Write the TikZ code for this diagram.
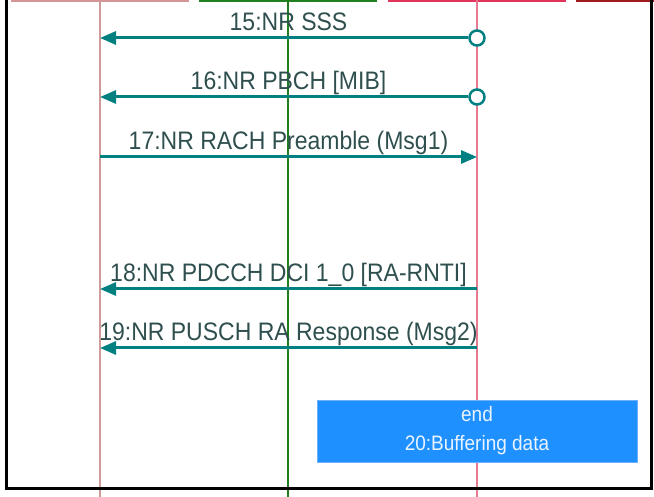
\documentclass[tikz,border=0pt]{standalone}
\usepackage{fontspec}
\setmainfont{Liberation Sans}
\usetikzlibrary{arrows.meta}
\definecolor{msgteal}{HTML}{008080}
\definecolor{msgtext}{HTML}{2F4F4F}
\definecolor{lifeA}{HTML}{CF9A9A}
\definecolor{headA}{HTML}{D39595}
\definecolor{lifeB}{HTML}{1F7F1F}
\definecolor{headB}{HTML}{1E801E}
\definecolor{lifeC}{HTML}{E67A90}
\definecolor{headC}{HTML}{E0345A}
\definecolor{headD}{HTML}{A01C1C}
\definecolor{boxblue}{HTML}{1E90FF}
\definecolor{boxedge}{HTML}{6CB0FF}
\definecolor{boxtext}{HTML}{EAF4FF}
\newcommand{\tallish}[1]{\scalebox{1}[1.1]{#1}}
\tikzset{
  lifeline/.style={line width=1.2pt},
  headbar/.style={line width=2.5pt},
  msgline/.style={draw=msgteal, line width=3pt, -{Triangle[length=16pt,width=13pt]}},
  msglabel/.style={anchor=base, text=msgtext, font=\fontsize{23}{27}\selectfont, inner sep=0pt},
  startdot/.style={circle, draw=msgteal, line width=2.5pt, fill=white, minimum size=15pt, inner sep=0pt},
  notebox/.style={fill=boxblue, draw=boxedge, line width=0.8pt},
  notetext/.style={text=boxtext, font=\fontsize{19}{23}\selectfont, inner sep=0pt, anchor=base},
  frameline/.style={draw=black, line width=3pt}
}
\begin{document}
\begin{tikzpicture}[x=1pt,y=-1pt]
\useasboundingbox (0,0) rectangle (654,497);
% lifeline coordinates
\coordinate (a0) at (100,0);
\coordinate (a1) at (100,497);
\coordinate (b0) at (288,0);
\coordinate (b1) at (288,497);
\coordinate (c0) at (477,0);
\coordinate (c1) at (477,497);
% header bars (bottoms of the participant boxes)
\draw[headbar, draw=headA] (11,0.8) -- (189,0.8);
\draw[headbar, draw=headB] (199,0.8) -- (377,0.8);
\draw[headbar, draw=headC] (388,0.8) -- (566,0.8);
\draw[headbar, draw=headD] (576,0.8) -- (654,0.8);
% lifelines
\draw[lifeline, draw=lifeA] (a0) -- (a1);
\draw[lifeline, draw=lifeB] (b0) -- (b1);
\draw[lifeline, draw=lifeC] (c0) -- (c1);
% frame
\draw[frameline] (6,0) -- (6,488.5) -- (651,488.5) -- (651,0);
% message end points
\coordinate (m15a) at (477,38);  \coordinate (m15b) at (100,38);
\coordinate (m16a) at (477,97);  \coordinate (m16b) at (100,97);
\coordinate (m17a) at (100,157); \coordinate (m17b) at (477,157);
\coordinate (m18a) at (477,289); \coordinate (m18b) at (100,289);
\coordinate (m19a) at (477,348); \coordinate (m19b) at (100,348);
% labels
\node[msglabel] (l15) at (288.5,31) {\tallish{15:NR SSS}};
\node[msglabel] (l16) at (288.5,90) {\tallish{16:NR PBCH [MIB]}};
\node[msglabel] (l17) at (288.5,150) {\tallish{17:NR RACH Preamble (Msg1)}};
\node[msglabel] (l18) at (288.5,282) {\tallish{18:NR PDCCH DCI 1\_0 [RA-RNTI]}};
\node[msglabel] (l19) at (288.5,341) {\tallish{19:NR PUSCH RA Response (Msg2)}};
% messages
\node[startdot] (s15) at (m15a) {};
\node[startdot] (s16) at (m16a) {};
\draw[msgline] (s15) -- (m15b);
\draw[msgline] (s16) -- (m16b);
\draw[msgline] (m17a) -- (m17b);
\draw[msgline] (m18a) -- (m18b);
\draw[msgline] (m19a) -- (m19b);
% note box
\draw[notebox] (317,400) rectangle (637,462);
\node[notetext] (n1) at (477,421) {\tallish{end}};
\node[notetext] (n2) at (477,450) {\tallish{20:Buffering data}};
\end{tikzpicture}
\end{document}
